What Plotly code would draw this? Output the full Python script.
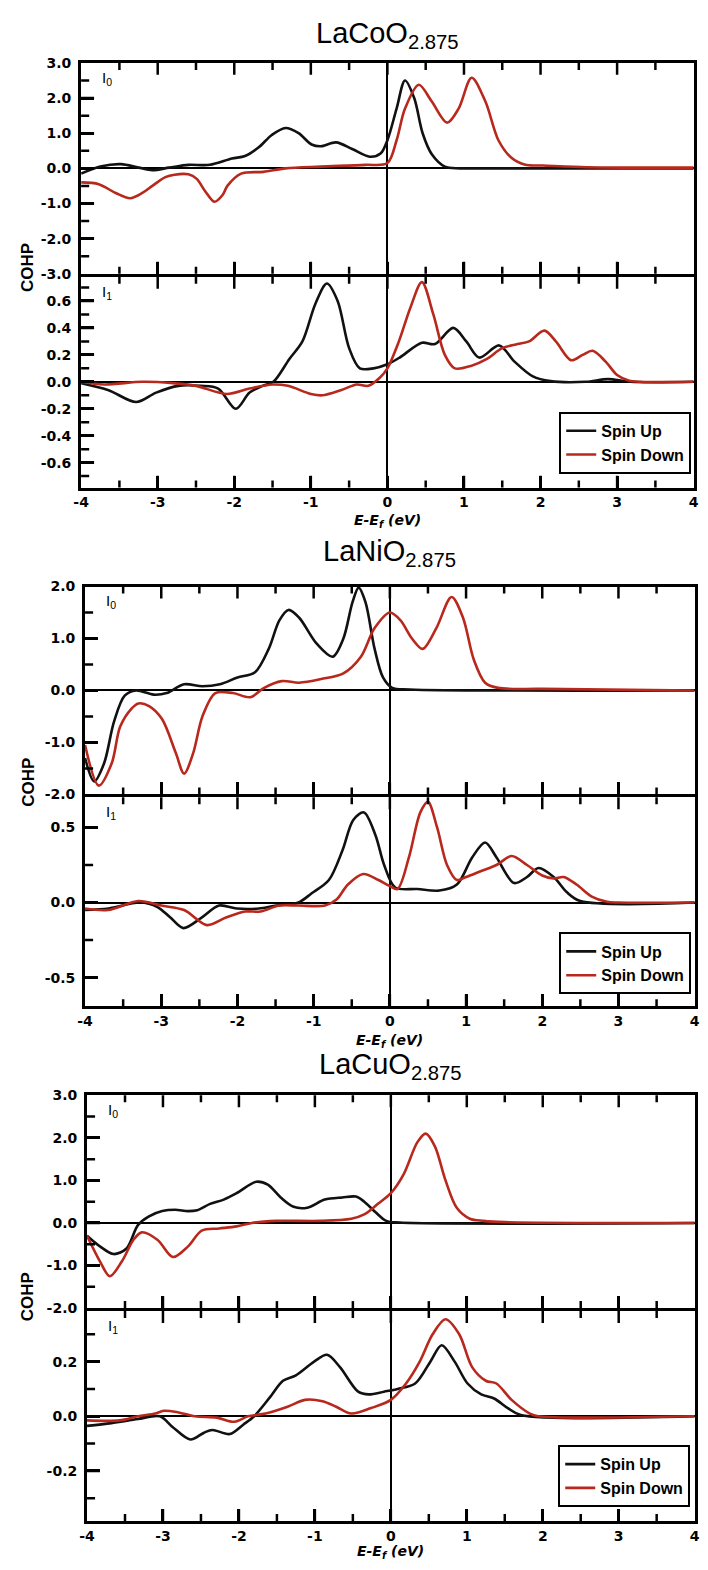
import plotly.graph_objects as go

# ---------------- data ----------------
# LaCoO2.875
co_i0_up_e = [-4.0, -3.75, -3.48, -3.25, -3.07, -2.85, -2.6, -2.32, -2.03, -1.86, -1.68, -1.51, -1.33, -1.16,
              -0.99, -0.87, -0.67, -0.46, -0.23, -0.09, 0.0, 0.12, 0.23, 0.35, 0.46, 0.58, 0.75, 0.95, 1.5, 4.0]
co_i0_up = [-0.15, 0.05, 0.12, 0.02, -0.05, 0.02, 0.1, 0.1, 0.28, 0.35, 0.6, 0.95, 1.15, 1.0,
            0.68, 0.63, 0.74, 0.55, 0.33, 0.42, 0.8, 1.7, 2.5, 2.0, 1.0, 0.4, 0.05, 0.0, 0.0, 0.0]
co_i0_dn_e = [-4.0, -3.77, -3.55, -3.36, -3.2, -3.07, -2.9, -2.78, -2.6, -2.49, -2.38, -2.26, -2.15, -2.09,
              -1.91, -1.62, -1.33, -0.87, -0.29, 0.0, 0.12, 0.23, 0.41, 0.58, 0.78, 0.93, 1.10, 1.28, 1.45,
              1.62, 1.80, 2.03, 2.6, 3.2, 4.0]
co_i0_dn = [-0.4, -0.45, -0.7, -0.85, -0.7, -0.5, -0.25, -0.18, -0.17, -0.3, -0.65, -0.95, -0.75, -0.5,
            -0.15, -0.1, 0.0, 0.05, 0.1, 0.15, 0.8, 1.7, 2.38, 1.9, 1.3, 1.7, 2.58, 1.9, 0.8,
            0.3, 0.1, 0.08, 0.03, 0.02, 0.02]
co_i1_up_e = [-4.0, -3.65, -3.28, -3.02, -2.73, -2.44, -2.21, -1.98, -1.80, -1.63, -1.49, -1.28, -1.11, -0.94,
              -0.79, -0.65, -0.50, -0.36, -0.18, 0.0, 0.16, 0.45, 0.62, 0.86, 1.03, 1.2, 1.46, 1.66, 1.9,
              2.13, 2.59, 2.88, 3.17, 4.0]
co_i1_up = [-0.01, -0.06, -0.15, -0.08, -0.03, -0.03, -0.05, -0.2, -0.08, -0.03, 0.0, 0.17, 0.3, 0.58,
            0.73, 0.6, 0.25, 0.1, 0.1, 0.13, 0.18, 0.29, 0.28, 0.4, 0.3, 0.18, 0.27, 0.15, 0.04,
            0.005, 0.0, 0.02, 0.0, 0.0]
co_i1_dn_e = [-4.0, -3.7, -3.2, -2.8, -2.5, -2.1, -1.8, -1.5, -1.3, -1.0, -0.85, -0.6, -0.4, -0.25, -0.1,
              0.0, 0.15, 0.3, 0.45, 0.6, 0.75, 0.88, 1.1, 1.3, 1.5, 1.7, 1.85, 2.05, 2.2, 2.4, 2.55, 2.68,
              2.85, 3.0, 3.15, 3.3, 4.0]
co_i1_dn = [0.0, -0.02, 0.0, -0.01, -0.03, -0.09, -0.05, -0.02, -0.03, -0.09, -0.1, -0.06, -0.02, -0.03, 0.03,
            0.1, 0.3, 0.55, 0.74, 0.5, 0.2, 0.1, 0.12, 0.17, 0.25, 0.28, 0.3, 0.38, 0.3, 0.16, 0.2, 0.23,
            0.15, 0.05, 0.01, 0.0, 0.0]

# LaNiO2.875
ni_i0_up_e = [-4.0, -3.88, -3.75, -3.62, -3.48, -3.33, -3.1, -2.93, -2.7, -2.46, -2.23, -2.0, -1.77, -1.59,
              -1.45, -1.33, -1.19, -0.96, -0.75, -0.61, -0.49, -0.41, -0.32, -0.2, -0.09, 0.03, 0.26, 4.0]
ni_i0_up = [-1.3, -1.75, -1.4, -0.6, -0.1, 0.0, -0.08, -0.05, 0.12, 0.08, 0.12, 0.25, 0.35, 0.8,
            1.35, 1.55, 1.4, 0.9, 0.65, 1.0, 1.7, 1.98, 1.7, 0.8, 0.25, 0.05, 0.02, 0.0]
ni_i0_dn_e = [-4.0, -3.82, -3.65, -3.54, -3.39, -3.3, -3.16, -2.99, -2.81, -2.70, -2.58, -2.46, -2.29, -2.06,
              -1.83, -1.65, -1.42, -1.19, -0.9, -0.61, -0.38, -0.2, 0.0, 0.14, 0.29, 0.43, 0.61, 0.81, 0.96,
              1.10, 1.25, 1.42, 2.0, 4.0]
ni_i0_dn = [-1.05, -1.83, -1.4, -0.7, -0.35, -0.25, -0.3, -0.55, -1.2, -1.6, -1.2, -0.5, -0.05, -0.05,
            -0.13, 0.05, 0.18, 0.15, 0.22, 0.33, 0.65, 1.2, 1.5, 1.35, 1.0, 0.8, 1.2, 1.8, 1.4,
            0.6, 0.15, 0.05, 0.03, 0.0]
ni_i1_up_e = [-4.0, -3.69, -3.28, -3.05, -2.88, -2.71, -2.47, -2.24, -2.01, -1.72, -1.49, -1.2, -1.03, -0.8,
              -0.62, -0.48, -0.34, -0.19, -0.075, 0.07, 0.36, 0.65, 0.88, 1.08, 1.25, 1.40, 1.63, 1.80, 1.95,
              2.15, 2.32, 2.5, 4.0]
ni_i1_up = [-0.05, -0.04, 0.0, -0.03, -0.1, -0.17, -0.1, -0.02, -0.04, -0.04, -0.02, 0.0, 0.06, 0.15,
            0.35, 0.55, 0.6, 0.45, 0.25, 0.1, 0.09, 0.08, 0.12, 0.3, 0.4, 0.3, 0.13, 0.17, 0.23,
            0.17, 0.07, 0.01, 0.0]
ni_i1_dn_e = [-4.0, -3.7, -3.3, -3.0, -2.7, -2.4, -2.15, -1.9, -1.7, -1.45, -1.2, -0.85, -0.7, -0.55, -0.35,
              -0.15, 0.0, 0.1, 0.25, 0.4, 0.5, 0.62, 0.75, 0.88, 1.0, 1.2, 1.4, 1.6, 1.8, 2.0, 2.15, 2.28,
              2.45, 2.65, 2.85, 3.0, 4.0]
ni_i1_dn = [-0.04, -0.05, 0.01, -0.02, -0.05, -0.15, -0.1, -0.06, -0.06, -0.02, -0.02, -0.02, 0.02, 0.12, 0.19,
            0.15, 0.11, 0.09, 0.3, 0.6, 0.67, 0.5, 0.25, 0.15, 0.17, 0.21, 0.25, 0.31, 0.25, 0.18, 0.16, 0.17,
            0.12, 0.04, 0.005, 0.0, 0.0]

# LaCuO2.875
cu_i0_up_e = [-4.0, -3.83, -3.65, -3.48, -3.33, -3.19, -3.01, -2.84, -2.67, -2.55, -2.38, -2.2, -2.03, -1.77,
              -1.62, -1.45, -1.28, -1.1, -0.87, -0.64, -0.46, -0.35, -0.2, -0.06, 0.12, 4.0]
cu_i0_up = [-0.3, -0.55, -0.73, -0.6, -0.05, 0.15, 0.28, 0.31, 0.28, 0.3, 0.45, 0.55, 0.7, 0.97,
            0.9, 0.6, 0.38, 0.36, 0.55, 0.6, 0.62, 0.5, 0.25, 0.05, 0.01, 0.0]
cu_i0_dn_e = [-4.0, -3.83, -3.7, -3.54, -3.39, -3.28, -3.07, -2.87, -2.67, -2.49, -2.26, -2.03, -1.83, -1.51,
              -0.93, -0.52, -0.35, -0.17, 0.0, 0.17, 0.35, 0.46, 0.58, 0.72, 0.87, 1.04, 1.22, 1.5, 4.0]
cu_i0_dn = [-0.3, -0.9, -1.25, -0.9, -0.4, -0.22, -0.4, -0.8, -0.55, -0.18, -0.13, -0.08, 0.0, 0.05,
            0.05, 0.1, 0.2, 0.45, 0.7, 1.15, 1.9, 2.1, 1.8, 1.0, 0.35, 0.1, 0.05, 0.02, 0.0]
cu_i1_up_e = [-4.0, -3.68, -3.33, -3.04, -2.87, -2.64, -2.46, -2.35, -2.12, -1.94, -1.8, -1.59, -1.42, -1.25,
              -1.01, -0.84, -0.67, -0.43, -0.29, -0.09, 0.09, 0.32, 0.52, 0.67, 0.84, 1.01, 1.19, 1.36, 1.54,
              1.71, 4.0]
cu_i1_up = [-0.035, -0.025, -0.01, 0.0, -0.04, -0.085, -0.06, -0.05, -0.065, -0.03, 0.0, 0.07, 0.13, 0.15,
            0.2, 0.225, 0.18, 0.09, 0.08, 0.09, 0.1, 0.12, 0.2, 0.26, 0.2, 0.12, 0.08, 0.065, 0.03,
            0.005, 0.0]
cu_i1_dn_e = [-4.0, -3.57, -3.33, -3.1, -2.99, -2.81, -2.58, -2.29, -2.06, -1.88, -1.65, -1.36, -1.13, -0.9,
              -0.72, -0.52, -0.26, 0.0, 0.2, 0.38, 0.55, 0.72, 0.9, 1.07, 1.25, 1.39, 1.59, 1.83, 1.94, 4.0]
cu_i1_dn = [-0.015, -0.015, 0.0, 0.01, 0.02, 0.015, 0.0, -0.005, -0.02, 0.0, 0.01, 0.035, 0.06, 0.055,
            0.035, 0.01, 0.03, 0.06, 0.12, 0.2, 0.3, 0.355, 0.3, 0.18, 0.13, 0.12, 0.06, 0.01, 0.0, 0.0]

titles = ["LaCoO<sub>2.875</sub>", "LaNiO<sub>2.875</sub>", "LaCuO<sub>2.875</sub>"]
series_names = ["Spin Up", "Spin Down"]
x_ticks = [-4, -3, -2, -1, 0, 1, 2, 3, 4]
x_ticktext = ["-4", "-3", "-2", "-1", "0", "1", "2", "3", "4"]
x_minor = [-3.5, -2.5, -1.5, -0.5, 0.5, 1.5, 2.5, 3.5]
upper_ticks = [
    ([-3, -2, -1, 0, 1, 2, 3], ["-3.0", "-2.0", "-1.0", "0.0", "1.0", "2.0", "3.0"]),
    ([-2, -1, 0, 1, 2], ["-2.0", "-1.0", "0.0", "1.0", "2.0"]),
    ([-2, -1, 0, 1, 2, 3], ["-2.0", "-1.0", "0.0", "1.0", "2.0", "3.0"]),
]
lower_ticks = [
    ([-0.6, -0.4, -0.2, 0.0, 0.2, 0.4, 0.6], ["-0.6", "-0.4", "-0.2", "0.0", "0.2", "0.4", "0.6"]),
    ([-0.5, 0.0, 0.5], ["-0.5", "0.0", "0.5"]),
    ([-0.2, 0.0, 0.2], ["-0.2", "0.0", "0.2"]),
]
upper_minor = [[-2.5, -1.5, -0.5, 0.5, 1.5, 2.5], [-1.5, -0.5, 0.5, 1.5], [-1.5, -0.5, 0.5, 1.5, 2.5]]
lower_minor = [[-0.7, -0.5, -0.3, -0.1, 0.1, 0.3, 0.5, 0.7], [-0.25, 0.25], [-0.3, -0.1, 0.1, 0.3]]

panels_data = [
    ((co_i0_up_e, co_i0_up, co_i0_dn_e, co_i0_dn), (co_i1_up_e, co_i1_up, co_i1_dn_e, co_i1_dn)),
    ((ni_i0_up_e, ni_i0_up, ni_i0_dn_e, ni_i0_dn), (ni_i1_up_e, ni_i1_up, ni_i1_dn_e, ni_i1_dn)),
    ((cu_i0_up_e, cu_i0_up, cu_i0_dn_e, cu_i0_dn), (cu_i1_up_e, cu_i1_up, cu_i1_dn_e, cu_i1_dn)),
]

# ---------------- layout geometry (pixels) ----------------
W, H = 708, 1570
LW = 3.0  # frame line width
geom = [
    dict(l=73, r=700, top=54, mid=270, bot=486, yr_up=[-3, 3], yr_lo=[-0.785, 0.78],
         title_y=27, xt_y=518, cohp_y=262, leg=(696, 408)),
    dict(l=77, r=701, top=583, mid=796, bot=1010, yr_up=[-2, 2], yr_lo=[-0.69, 0.70],
         title_y=551, xt_y=1044, cohp_y=782, leg=(696, 934)),
    dict(l=79, r=701, top=1097, mid=1315, bot=1530, yr_up=[-2, 3], yr_lo=[-0.383, 0.385],
         title_y=1069, xt_y=1560, cohp_y=1302, leg=(695, 1452)),
]
BLACK = "#111111"
RED = "#b8281c"
TICKFONT = dict(family="DejaVu Sans", size=14, color="black")
TW = 2.5  # tick width
# tick-mark marker sizes (a line-ns / line-ew marker spans 1.4*size; half is clipped outside the plot)
SZ_XMAJ, SZ_XMIN, SZ_YMAJ, SZ_YMIN = 17, 10, 18.5, 11.5

def px(x):
    return x / W

def py(y):
    return 1 - y / H

def sfx(n):
    return "" if n == 1 else str(n)

def bold(labels):
    return ["<b>%s</b>" % t for t in labels]

def interior(vals, rng):
    lo, hi = min(rng), max(rng)
    return [v for v in vals if lo < v < hi]

fig = go.Figure()
layout = dict(width=W, height=H, margin=dict(l=0, r=0, t=0, b=0),
              paper_bgcolor="white", plot_bgcolor="white", annotations=[])
h = LW / 2
XR = [-4, 4]

def tick_marks(xa, ya, xs, ys, symbol, size):
    fig.add_trace(go.Scatter(x=xs, y=ys, mode="markers", xaxis=xa, yaxis=ya, cliponaxis=True,
                             marker=dict(symbol=symbol, size=size, color="black",
                                         line=dict(width=TW, color="black")),
                             showlegend=False, hoverinfo="skip"))

for i, g in enumerate(geom):
    legname = "legend" if i == 0 else "legend%d" % (i + 1)
    for j, sub in enumerate(panels_data[i]):
        n = 2 * i + j + 1
        xa, ya = "x" + sfx(n), "y" + sfx(n)
        ue, uv, de, dv = sub
        lower = (j == 1)
        fig.add_trace(go.Scatter(x=ue, y=uv, mode="lines", name=series_names[0], xaxis=xa, yaxis=ya,
                                 line=dict(color=BLACK, width=2.6, shape="spline", smoothing=0.9),
                                 showlegend=lower, legend=legname))
        fig.add_trace(go.Scatter(x=de, y=dv, mode="lines", name=series_names[1], xaxis=xa, yaxis=ya,
                                 line=dict(color=RED, width=2.6, shape="spline", smoothing=0.9),
                                 showlegend=lower, legend=legname))
        if lower:
            dom = [py(g["bot"] - h), py(g["mid"] + h)]
            yr = g["yr_lo"]
            tv, tt = lower_ticks[i]
            mv = lower_minor[i]
        else:
            dom = [py(g["mid"] - h), py(g["top"] + h)]
            yr = g["yr_up"]
            tv, tt = upper_ticks[i]
            mv = upper_minor[i]
        xdom = [px(g["l"] + h), px(g["r"] - h)]

        layout["xaxis" + sfx(n)] = dict(
            domain=xdom, range=XR, anchor=ya,
            tickmode="array", tickvals=x_ticks, ticktext=bold(x_ticktext), showticklabels=lower,
            ticks="inside", ticklen=12, tickwidth=TW, tickcolor="black",
            showline=True, linewidth=LW, linecolor="black", mirror=True,
            zeroline=True, zerolinewidth=2.0, zerolinecolor="black", showgrid=False,
            tickfont=TICKFONT)
        layout["yaxis" + sfx(n)] = dict(
            domain=dom, range=yr, anchor=xa,
            tickmode="array", tickvals=tv, ticktext=bold(tt),
            ticks="inside", ticklen=13, tickwidth=TW, tickcolor="black",
            showline=True, linewidth=LW, linecolor="black", mirror=True,
            zeroline=True, zerolinewidth=2.4, zerolinecolor="black", showgrid=False,
            tickfont=TICKFONT, ticklabelstandoff=4)

        # tick marks along the frame, placed by the axes at the tick values
        xmaj = interior(x_ticks, XR)
        xmin = interior(x_minor, XR)
        for edge in (yr[0], yr[1]):
            tick_marks(xa, ya, xmaj, [edge] * len(xmaj), "line-ns-open", SZ_XMAJ)
            tick_marks(xa, ya, xmin, [edge] * len(xmin), "line-ns-open", SZ_XMIN)
        ymaj = interior(tv, yr)
        ymin = interior(mv, yr)
        tick_marks(xa, ya, [XR[0]] * len(ymaj), ymaj, "line-ew-open", SZ_YMAJ)
        tick_marks(xa, ya, [XR[0]] * len(ymin), ymin, "line-ew-open", SZ_YMIN)

        # I0 / I1 labels
        lab_y = (g["top"] + 17) if not lower else (g["mid"] + 17)
        layout["annotations"].append(dict(
            text="I<sub>%d</sub>" % j, xref="paper", yref="paper", x=px(g["l"] + 28), y=py(lab_y),
            xanchor="center", yanchor="middle", showarrow=False,
            font=dict(family="Liberation Sans", size=15, color="black")))

    # panel title
    cx = (g["l"] + g["r"]) / 2
    layout["annotations"].append(dict(
        text=titles[i], xref="paper", yref="paper", x=px(cx), y=py(g["title_y"]),
        xanchor="center", yanchor="middle", showarrow=False,
        font=dict(family="Liberation Sans", size=29, color="black")))
    # x-axis title
    layout["annotations"].append(dict(
        text="<b><i>E-E<sub>f</sub> (eV)</i></b>", xref="paper", yref="paper", x=px(cx), y=py(g["xt_y"]),
        xanchor="center", yanchor="middle", showarrow=False,
        font=dict(family="DejaVu Sans", size=14, color="black")))
    # y-axis title
    layout["annotations"].append(dict(
        text="<b>COHP</b>", xref="paper", yref="paper", x=px(20), y=py(g["cohp_y"]), textangle=-90,
        xanchor="center", yanchor="middle", showarrow=False,
        font=dict(family="Liberation Sans", size=17, color="black")))
    # legend
    layout[legname] = dict(
        x=px(g["leg"][0]), y=py(g["leg"][1]), xanchor="right", yanchor="top",
        bgcolor="white", bordercolor="black", borderwidth=2, tracegroupgap=0,
        font=dict(family="Liberation Sans", size=16, weight="bold", color="black"))

fig.update_layout(**layout)
fig.write_html("out.html")
